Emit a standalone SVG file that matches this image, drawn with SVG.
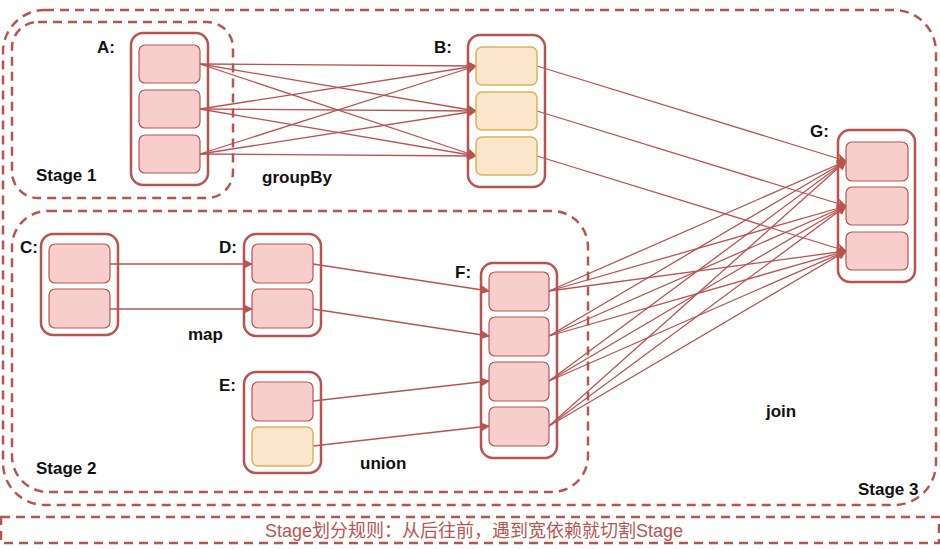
<svg xmlns="http://www.w3.org/2000/svg" width="940" height="549" viewBox="0 0 940 549">
<defs>
<style>
.stage{fill:none;stroke:#b85450;stroke-width:2.5;stroke-dasharray:9 6}
.outer{fill:none;stroke:#b85450;stroke-width:2.5}
.pink{fill:#f8cecc;stroke:#b85450;stroke-width:1.2}
.orange{fill:#fce5cd;stroke:#d6b656;stroke-width:1.5}
.lbl{font-family:"Liberation Sans",Arial,sans-serif;font-weight:bold;font-size:17px;fill:#111}
.rule{font-family:"Liberation Sans","Noto Sans CJK SC",sans-serif;font-size:18px;fill:#b85450}
.edge{stroke:#b85450;stroke-width:1.3;fill:none;marker-end:url(#arr)}
</style>
<marker id="arr" viewBox="0 0 10 10" refX="9" refY="5" markerWidth="10" markerHeight="10" markerUnits="userSpaceOnUse" orient="auto">
<path d="M0,0 L10,5 L0,10 L2.5,5 Z" fill="#b85450"/>
</marker>
</defs>
<rect width="940" height="549" fill="#ffffff"/>

<g id="stage3">
<rect class="stage" x="3" y="10" width="933" height="495" rx="42"/>
<text class="lbl" x="858" y="495">Stage 3</text>
</g>
<g id="stage1">
<rect class="stage" x="12" y="22" width="221" height="176" rx="26"/>
<text class="lbl" x="36" y="181">Stage 1</text>
</g>
<g id="stage2">
<rect class="stage" x="12" y="211" width="576" height="281" rx="36"/>
<text class="lbl" x="36" y="474">Stage 2</text>
</g>
<g id="rulebox">
<rect class="stage" x="1" y="517" width="938" height="26"/>
<text class="rule" x="474" y="537" text-anchor="middle">Stage划分规则：从后往前，遇到宽依赖就切割Stage</text>
</g>

<g id="connectors">
<line class="edge" x1="200" y1="64" x2="476" y2="66"/>
<line class="edge" x1="200" y1="64" x2="476" y2="111"/>
<line class="edge" x1="200" y1="64" x2="476" y2="156"/>
<line class="edge" x1="200" y1="109" x2="476" y2="66"/>
<line class="edge" x1="200" y1="109" x2="476" y2="111"/>
<line class="edge" x1="200" y1="109" x2="476" y2="156"/>
<line class="edge" x1="200" y1="154" x2="476" y2="66"/>
<line class="edge" x1="200" y1="154" x2="476" y2="111"/>
<line class="edge" x1="200" y1="154" x2="476" y2="156"/>

<line class="edge" x1="537" y1="66" x2="846" y2="161"/>
<line class="edge" x1="537" y1="111" x2="846" y2="206"/>
<line class="edge" x1="537" y1="156" x2="846" y2="251"/>

<line class="edge" x1="549" y1="291" x2="846" y2="161"/>
<line class="edge" x1="549" y1="291" x2="846" y2="206"/>
<line class="edge" x1="549" y1="291" x2="846" y2="251"/>
<line class="edge" x1="549" y1="336" x2="846" y2="161"/>
<line class="edge" x1="549" y1="336" x2="846" y2="206"/>
<line class="edge" x1="549" y1="336" x2="846" y2="251"/>
<line class="edge" x1="549" y1="381" x2="846" y2="161"/>
<line class="edge" x1="549" y1="381" x2="846" y2="206"/>
<line class="edge" x1="549" y1="381" x2="846" y2="251"/>
<line class="edge" x1="549" y1="426" x2="846" y2="161"/>
<line class="edge" x1="549" y1="426" x2="846" y2="206"/>
<line class="edge" x1="549" y1="426" x2="846" y2="251"/>

<line class="edge" x1="110" y1="264" x2="252" y2="264"/>
<line class="edge" x1="110" y1="309" x2="252" y2="309"/>
<line class="edge" x1="313" y1="264" x2="489" y2="291"/>
<line class="edge" x1="313" y1="309" x2="489" y2="336"/>
<line class="edge" x1="313" y1="401" x2="489" y2="381"/>
<line class="edge" x1="313" y1="446" x2="489" y2="426"/>
<text class="lbl" x="262" y="183">groupBy</text>
<text class="lbl" x="188" y="340">map</text>
<text class="lbl" x="360" y="469">union</text>
<text class="lbl" x="766" y="417">join</text>
</g>

<g id="A">
<rect class="outer" x="131" y="33" width="77" height="152" rx="12"/>
<rect class="pink" x="139" y="45" width="61" height="38" rx="6"/>
<rect class="pink" x="139" y="90" width="61" height="38" rx="6"/>
<rect class="pink" x="139" y="135" width="61" height="38" rx="6"/>
<text class="lbl" x="97" y="53">A:</text>
</g>
<g id="B">
<rect class="outer" x="468" y="35" width="77" height="152" rx="12"/>
<rect class="orange" x="476" y="47" width="61" height="38" rx="6"/>
<rect class="orange" x="476" y="92" width="61" height="38" rx="6"/>
<rect class="orange" x="476" y="137" width="61" height="38" rx="6"/>
<text class="lbl" x="434" y="53">B:</text>
</g>
<g id="G">
<rect class="outer" x="838" y="130" width="77" height="152" rx="12"/>
<rect class="pink" x="846" y="142" width="62" height="39" rx="6"/>
<rect class="pink" x="846" y="187" width="62" height="38" rx="6"/>
<rect class="pink" x="846" y="232" width="62" height="38" rx="6"/>
<text class="lbl" x="810" y="137">G:</text>
</g>
<g id="C">
<rect class="outer" x="41" y="234" width="77" height="101" rx="12"/>
<rect class="pink" x="49" y="244" width="61" height="39" rx="6"/>
<rect class="pink" x="49" y="289" width="61" height="39" rx="6"/>
<text class="lbl" x="20" y="253">C:</text>
</g>
<g id="D">
<rect class="outer" x="244" y="234" width="77" height="102" rx="12"/>
<rect class="pink" x="252" y="244" width="61" height="39" rx="6"/>
<rect class="pink" x="252" y="289" width="61" height="39" rx="6"/>
<text class="lbl" x="219" y="253">D:</text>
</g>
<g id="E">
<rect class="outer" x="244" y="372" width="77" height="101" rx="12"/>
<rect class="pink" x="252" y="382" width="61" height="39" rx="6"/>
<rect class="orange" x="252" y="427" width="61" height="39" rx="6"/>
<text class="lbl" x="219" y="391">E:</text>
</g>
<g id="F">
<rect class="outer" x="481" y="263" width="76" height="195" rx="12"/>
<rect class="pink" x="489" y="272" width="60" height="39" rx="6"/>
<rect class="pink" x="489" y="317" width="60" height="39" rx="6"/>
<rect class="pink" x="489" y="362" width="60" height="39" rx="6"/>
<rect class="pink" x="489" y="407" width="60" height="39" rx="6"/>
<text class="lbl" x="455" y="278">F:</text>
</g>
</svg>
